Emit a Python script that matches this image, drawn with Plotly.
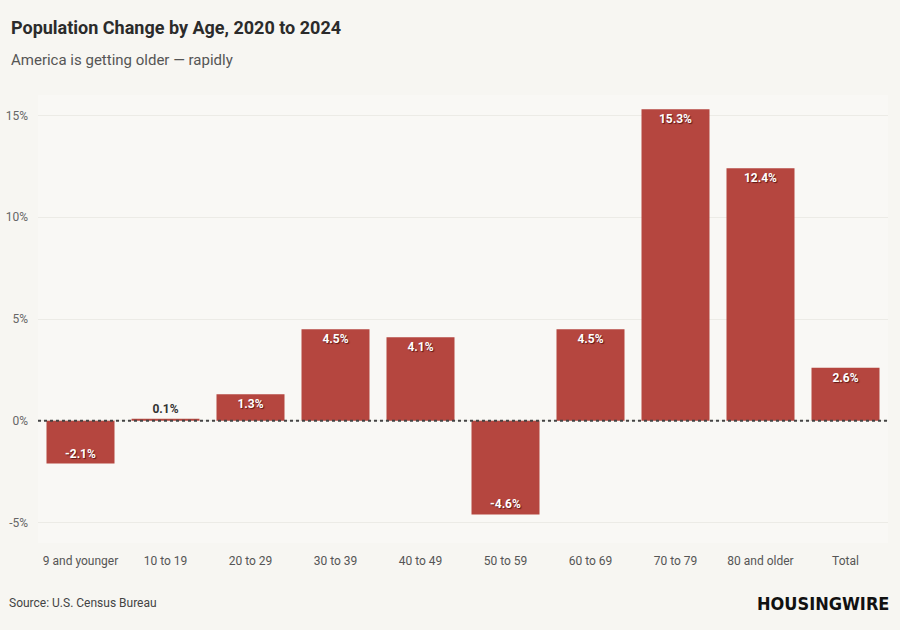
import plotly.graph_objects as go

# Data
age_groups = ["9 and younger", "10 to 19", "20 to 29", "30 to 39", "40 to 49",
              "50 to 59", "60 to 69", "70 to 79", "80 and older", "Total"]
pct_change = [-2.1, 0.1, 1.3, 4.5, 4.1, -4.6, 4.5, 15.3, 12.4, 2.6]
y_ticks = [-5, 0, 5, 10, 15]
y_tick_labels = ["-5%", "0%", "5%", "10%", "15%"]

BG = "#f7f6f2"
BAR = "#b5463f"
FONT = "Roboto"


def main():
    labels = [f"{v:.1f}%" for v in pct_change]
    # small bars don't fit a label inside, put it above
    positions = ["outside" if abs(v) < 0.5 else "inside" for v in pct_change]

    fig = go.Figure()
    fig.add_trace(go.Bar(
        x=age_groups,
        y=pct_change,
        marker=dict(color=BAR, line=dict(width=0)),
        text=labels,
        textposition=positions,
        insidetextanchor="end",
        constraintext="none",
        cliponaxis=False,
        insidetextfont=dict(family=FONT, size=12, color="white",
                            weight="bold", shadow="1px 1px 1px #5c1814"),
        outsidetextfont=dict(family=FONT, size=12, color="#333333", weight="bold"),
        hoverinfo="skip",
    ))

    # dotted zero line
    fig.add_hline(y=0, line=dict(color="#444444", width=2, dash="dot"))

    fig.update_layout(
        width=900, height=630,
        paper_bgcolor=BG, plot_bgcolor="#f9f8f5",
        margin=dict(l=38, r=12, t=95, b=87),
        showlegend=False,
        bargap=0.2,
        font=dict(family=FONT, color="#666666"),
        annotations=[
            dict(text="<b>Population Change by Age, 2020 to 2024</b>", xref="paper", yref="paper",
                 x=-0.034, y=1.15, xanchor="left", yanchor="middle", showarrow=False,
                 font=dict(family=FONT, size=18, color="#2b2b2b")),
            dict(text="America is getting older — rapidly", xref="paper", yref="paper",
                 x=-0.034, y=1.078, xanchor="left", yanchor="middle", showarrow=False,
                 font=dict(family=FONT, size=15, color="#555555")),
            dict(text="Source: U.S. Census Bureau", xref="paper", yref="paper",
                 x=-0.036, y=-0.134, xanchor="left", yanchor="middle", showarrow=False,
                 font=dict(family=FONT, size=12, color="#444444")),
            dict(text="<b>HOUSINGWIRE</b>", xref="paper", yref="paper",
                 x=1.003, y=-0.134, xanchor="right", yanchor="middle", showarrow=False,
                 font=dict(family="DejaVu Sans Condensed", size=18, color="#111111")),
        ],
    )

    fig.update_xaxes(
        showgrid=False, zeroline=False, showline=False, ticks="",
        ticklabelstandoff=9, automargin=False,
        tickfont=dict(family=FONT, size=12, color="#555555"),
    )
    fig.update_yaxes(
        range=[-6, 16],
        tickvals=y_ticks, ticktext=y_tick_labels,
        showgrid=True, gridcolor="#ecebe6", gridwidth=1,
        zeroline=False, showline=False, ticks="",
        ticklabelstandoff=9, automargin=False,
        tickfont=dict(family=FONT, size=12, color="#666666"),
    )

    fig.write_html("out.html", config={"displayModeBar": False},
                   post_script="document.body.style.margin='0';")


if __name__ == "__main__":
    main()
